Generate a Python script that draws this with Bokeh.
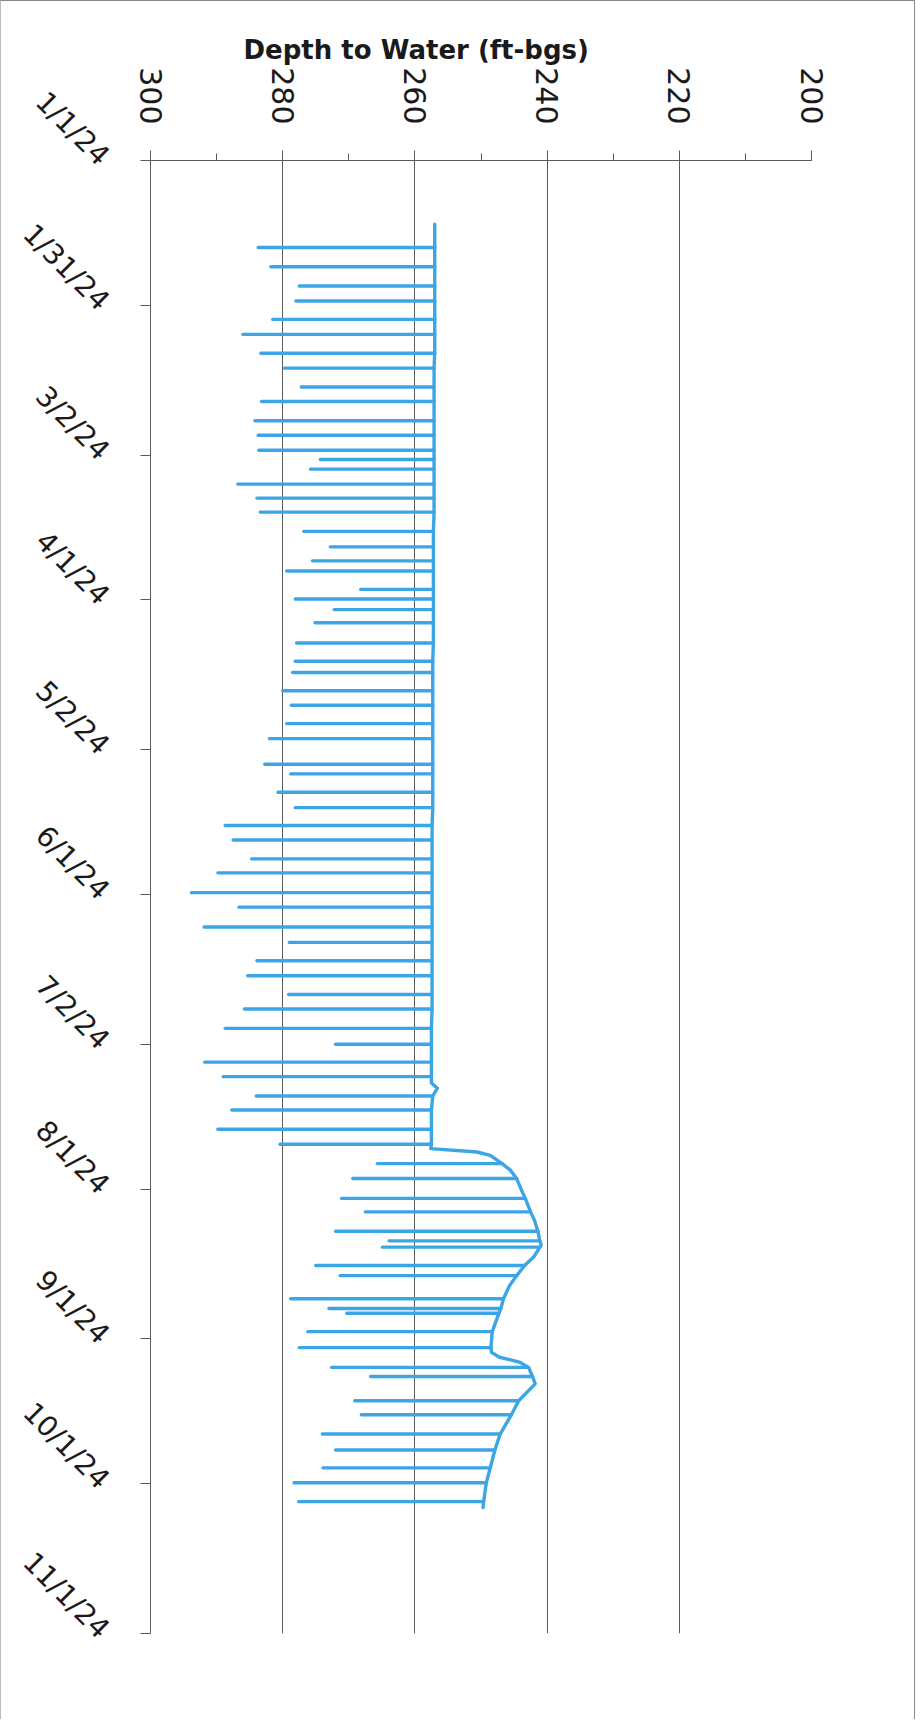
from datetime import date
import numpy as np
from bokeh.plotting import figure
from bokeh.models import Range1d, FixedTicker, SingleIntervalTicker, ColumnDataSource
from bokeh.embed import file_html
from bokeh.resources import INLINE

# ---------------- data ----------------
date_tick_labels = ["1/1/24", "1/31/24", "3/2/24", "4/1/24", "5/2/24", "6/1/24",
                    "7/2/24", "8/1/24", "9/1/24", "10/1/24", "11/1/24"]
depth_tick_values = [300, 280, 260, 240, 220, 200]

# pumping spikes: day since 1/1/24, pumping depth, static level at that moment (ft-bgs)
pump_day = [18.0, 22.0, 26.0, 29.1, 32.9, 36.0, 39.9, 43.0, 46.9, 49.9,
            53.9, 56.9, 60.0, 61.9, 63.9, 67.0, 69.9, 72.8, 76.8, 80.0,
            82.9, 85.0, 88.8, 90.8, 93.0, 95.7, 99.9, 103.7, 106.0, 109.8,
            112.8, 116.6, 119.7, 125.0, 127.0, 130.8, 134.0, 137.7, 140.7, 144.6,
            147.5, 151.6, 154.6, 158.7, 161.9, 165.7, 168.8, 172.7, 175.7, 179.7,
            183.0, 186.7, 189.7, 193.7, 196.6, 200.6, 203.7, 207.7, 210.8, 214.9,
            217.7, 221.7, 223.7, 225.0, 228.8, 230.9, 235.7, 237.7, 238.7, 242.5,
            245.8, 249.9, 251.8, 256.8, 259.7, 263.7, 267.0, 270.7, 273.8, 277.7]
pump_depth = [283.7, 281.8, 277.5, 278.0, 281.5, 286.0, 283.3, 279.7, 277.2, 283.2,
              284.2, 283.7, 283.6, 274.3, 275.8, 286.8, 283.9, 283.4, 276.8, 272.8,
              275.5, 279.4, 268.2, 278.1, 272.2, 275.1, 277.9, 278.1, 278.5, 280.0,
              278.7, 279.4, 282.0, 282.7, 278.8, 280.7, 278.1, 288.7, 287.5, 284.7,
              289.8, 293.8, 286.6, 291.9, 279.0, 283.9, 285.3, 279.1, 285.8, 288.7,
              272.0, 291.8, 289.0, 284.0, 287.7, 289.8, 280.4, 265.7, 269.4, 271.1,
              267.5, 272.0, 263.9, 264.9, 275.0, 271.3, 278.8, 273.0, 270.3, 276.2,
              277.5, 272.6, 266.7, 269.1, 268.1, 274.0, 272.0, 273.9, 278.3, 277.6]
static_depth = [257.0, 257.0, 257.0, 257.0, 257.0, 257.0, 257.0, 257.1, 257.1, 257.1,
                257.1, 257.1, 257.1, 257.1, 257.1, 257.1, 257.1, 257.1, 257.2, 257.2,
                257.2, 257.2, 257.2, 257.2, 257.2, 257.2, 257.2, 257.3, 257.3, 257.3,
                257.3, 257.3, 257.3, 257.3, 257.3, 257.3, 257.3, 257.4, 257.4, 257.4,
                257.4, 257.4, 257.4, 257.4, 257.4, 257.4, 257.4, 257.4, 257.4, 257.5,
                257.5, 257.5, 257.5, 257.3, 257.5, 257.5, 257.5, 246.8, 244.6, 243.3,
                242.5, 241.4, 241.1, 241.1, 243.4, 244.6, 246.6, 247.0, 247.3, 248.3,
                248.5, 242.8, 242.2, 244.3, 245.4, 247.1, 247.9, 248.6, 249.2, 249.6]
# static-level trace between spikes
trend_day = [13.2, 191.0, 192.1, 204.6, 205.3, 206.0, 209.0, 212.8, 219.5, 224.6,
             227.0, 233.0, 246.8, 247.8, 248.8, 253.3, 278.9]
trend_depth = [257.0, 257.5, 256.6, 257.6, 250.6, 248.6, 245.6, 244.0, 241.9, 240.9,
               242.0, 245.7, 248.4, 247.2, 244.2, 241.8, 249.7]

# ---------------- build ----------------
origin = date(2024, 1, 1)


def label_day(lbl):
    m, d, y = (int(v) for v in lbl.split("/"))
    return (date(2000 + y, m, d) - origin).days


date_tick_days = [label_day(l) for l in date_tick_labels]

line_days = np.array(trend_day + pump_day)
line_depths = np.array(trend_depth + static_depth)
order = np.argsort(line_days, kind="stable")
line_src = ColumnDataSource(dict(day=line_days[order], depth=line_depths[order]))
spike_src = ColumnDataSource(dict(day=pump_day, x0=static_depth, x1=pump_depth))

BLUE = "#3ca5e6"
GRID = "#5a5a5a"
TXT = "#1a1a1a"

x_range = Range1d(max(depth_tick_values), min(depth_tick_values))
y_range = Range1d(date_tick_days[-1], date_tick_days[0])

p = figure(width=915, height=1719, output_backend="svg", toolbar_location=None,
           x_range=x_range, y_range=y_range, x_axis_location="above",
           min_border_left=146, min_border_top=159, min_border_right=105, min_border_bottom=87)

p.segment(x0="x0", y0="day", x1="x1", y1="day", source=spike_src,
          line_color=BLUE, line_width=3.4, line_cap="round")
p.line(x="depth", y="day", source=line_src, line_color=BLUE, line_width=3.4,
       line_join="round", line_cap="round")

depth_ticker = SingleIntervalTicker(interval=20, num_minor_ticks=2)
xa = p.xaxis[0]
xa.ticker = depth_ticker
xa.major_label_overrides = {v: str(v) for v in depth_tick_values}
xa.major_label_orientation = -np.pi / 2
xa.major_label_text_font = "DejaVu Sans"
xa.major_label_text_font_size = "30px"
xa.major_label_text_color = TXT
xa.major_label_standoff = 26
xa.major_tick_out = 10
xa.major_tick_in = 0
xa.minor_tick_out = 7
xa.minor_tick_in = 0
xa.axis_line_color = GRID
xa.major_tick_line_color = GRID
xa.minor_tick_line_color = GRID

ya = p.yaxis[0]
ya.ticker = FixedTicker(ticks=date_tick_days, minor_ticks=[])
ya.major_label_overrides = {d: l for d, l in zip(date_tick_days, date_tick_labels)}
ya.major_label_orientation = -np.pi / 4
ya.major_label_text_font = "DejaVu Sans"
ya.major_label_text_font_size = "28px"
ya.major_label_text_color = TXT
ya.major_label_standoff = 36
ya.major_tick_out = 10
ya.major_tick_in = 0
ya.axis_line_color = GRID
ya.major_tick_line_color = GRID

p.xgrid.ticker = depth_ticker
p.xgrid.grid_line_color = GRID
p.xgrid.grid_line_width = 1
p.ygrid.grid_line_color = None
p.outline_line_color = None

p.title.text = "Depth to Water (ft-bgs)"
p.title.align = "left"
p.title.offset = 93
p.title.text_font = "DejaVu Sans"
p.title.text_font_style = "bold"
p.title.text_font_size = "26px"
p.title.text_color = TXT
p.title.standoff = 0

p.styles = {"border-top": "1px solid #888", "border-right": "1px solid #888",
            "border-left": "1px solid #bbb"}

open("out.html", "w").write(file_html(p, INLINE))
